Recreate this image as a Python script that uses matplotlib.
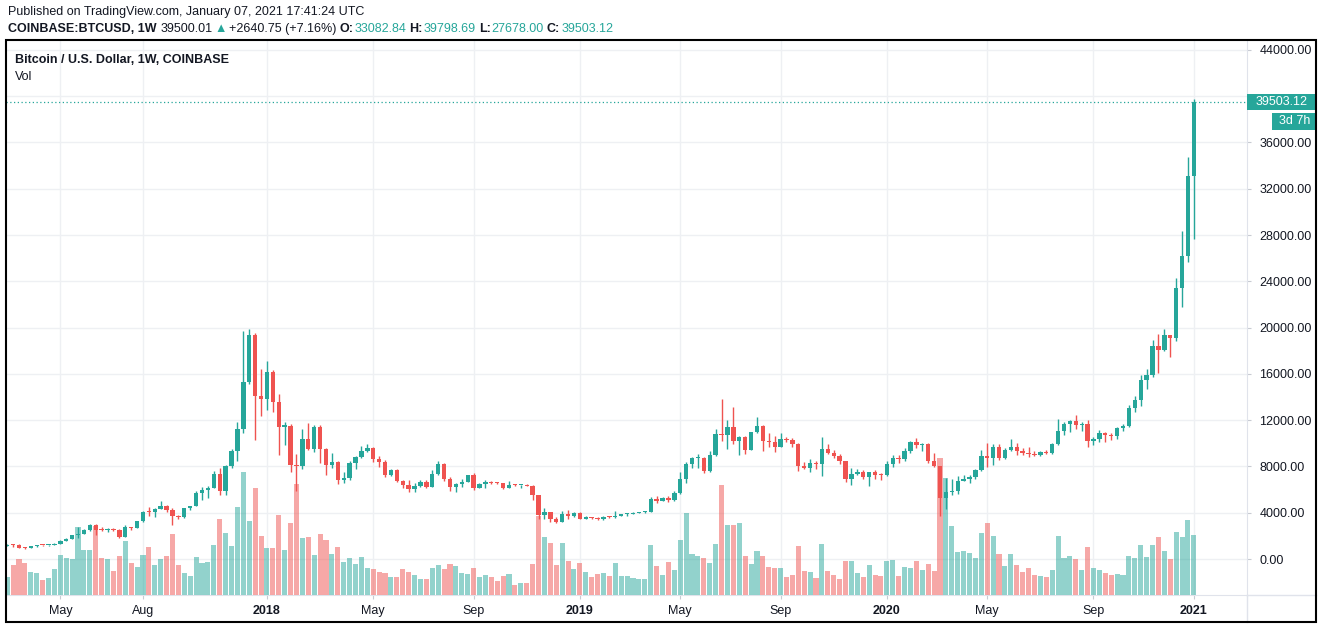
import numpy as np
import pandas as pd
import matplotlib
matplotlib.use('Agg')
import matplotlib.pyplot as plt
from matplotlib.patches import Rectangle
from matplotlib.lines import Line2D

# Weekly candles COINBASE:BTCUSD, 1W
dates = pd.date_range('2017-02-27', periods=202, freq='W-MON')

opens = [1150, 1200, 1180, 965, 950, 1090, 1180, 1170, 1240, 1340,
         1550, 1760, 2050, 2200, 2510, 2950, 2520, 2480, 2510, 2500,
         1920, 2750, 2700, 3250, 4100, 4060, 4350, 4580, 4250, 3680,
         3600, 4390, 4600, 5700, 5980, 6150, 7360, 5850, 8050, 9330,
         11250, 15300, 19400, 14100, 13800, 16160, 13600, 11450, 11500, 8100,
         8000, 10370, 9550, 11410, 9500, 8100, 8380, 6800, 7000, 8300,
         8780, 9360, 9600, 8640, 8400, 7300, 7700, 6700, 6380, 6080,
         6320, 6640, 6260, 7350, 8210, 6950, 6260, 6480, 6650, 7260,
         6160, 6480, 6650, 6570, 6560, 6180, 6400, 6380, 6400, 6340,
         5500, 3800, 4060, 3500, 3180, 3890, 3750, 3990, 3500, 3560,
         3540, 3420, 3650, 3610, 3760, 3860, 3920, 4000, 4020, 4100,
         5190, 5050, 5280, 5060, 5700, 6910, 8210, 8730, 8740, 7600,
         8990, 10800, 10750, 11400, 10200, 10540, 9420, 10980, 11500, 10200,
         10100, 9700, 10370, 10300, 9980, 8000, 7870, 8300, 8220, 9510,
         9200, 8900, 8450, 6900, 7350, 7520, 7080, 7500, 7300, 7220,
         8180, 8700, 8620, 9330, 10110, 9880, 9950, 8450, 8000, 5300,
         5800, 5880, 6740, 6900, 7090, 7690, 8900, 8700, 9680, 8720,
         9450, 9680, 9330, 9180, 9080, 9020, 9250, 9160, 9940, 11060,
         11670, 11900, 11550, 11680, 10200, 10330, 10890, 10700, 10600, 11320,
         11500, 13050, 13740, 15470, 15900, 18410, 18100, 19360, 19100, 23420,
         26190, 33082.84]

highs = [1280, 1330, 1260, 1080, 1130, 1200, 1220, 1250, 1360, 1600,
         1800, 2080, 2760, 2600, 3000, 2990, 2780, 2650, 2650, 2560,
         2940, 2800, 3300, 4180, 4480, 4380, 4980, 4700, 4400, 3800,
         4400, 4600, 5860, 6200, 6300, 7600, 7880, 8100, 9500, 11850,
         19700, 19890, 19500, 16400, 17100, 16300, 14260, 11850, 11700, 9080,
         11200, 11750, 11550, 11600, 9600, 9170, 8500, 7500, 8430, 8900,
         9770, 9940, 9700, 8880, 8550, 7780, 7810, 6830, 6800, 6540,
         6830, 6800, 7690, 8470, 8270, 7060, 6590, 6880, 7300, 7400,
         6550, 6830, 6750, 6650, 6600, 6740, 6480, 6420, 6450, 6400,
         5550, 4410, 4100, 3600, 4150, 4240, 4100, 4100, 3720, 3660,
         3600, 3700, 3700, 4150, 3900, 3960, 4060, 4080, 4130, 5360,
         5420, 5400, 5420, 5850, 7520, 8380, 8830, 9080, 8800, 9330,
         11200, 13830, 12010, 13140, 10650, 10650, 11000, 12270, 11550, 10890,
         10630, 10890, 10550, 10460, 10030, 8400, 8650, 8470, 10540, 9940,
         9400, 9080, 8470, 7870, 7750, 7650, 7500, 7690, 7430, 8450,
         9000, 8980, 9590, 10200, 10460, 10030, 9990, 9160, 8050, 7000,
         6910, 7180, 7300, 7250, 7780, 9420, 10030, 9940, 9940, 9600,
         10370, 9990, 9590, 9650, 9300, 9350, 9400, 10000, 12100, 11800,
         12020, 12450, 11810, 12020, 10520, 11150, 10980, 10890, 11450, 11680,
         13310, 14090, 15900, 16420, 18930, 19450, 19880, 19400, 24290, 28380,
         34720, 39798.69]

lows = [1120, 1000, 930, 900, 930, 1080, 1100, 1150, 1200, 1330,
        1550, 1720, 1850, 2150, 2450, 2050, 2430, 2300, 2450, 1830,
        1900, 2550, 2650, 3200, 3750, 3600, 4330, 4100, 2970, 3500,
        3580, 4200, 4560, 5100, 5300, 6100, 5500, 5500, 7900, 8500,
        10890, 15100, 10300, 12400, 12900, 12700, 9000, 9850, 7500, 5880,
        7800, 9450, 9280, 8320, 7250, 7900, 6450, 6550, 6800, 7800,
        8700, 9250, 8350, 7950, 7100, 7200, 6650, 6100, 5750, 5800,
        6200, 6100, 6250, 7300, 6770, 5880, 5790, 6200, 6650, 5960,
        6100, 6100, 6450, 6450, 6050, 6100, 6300, 6150, 6280, 5130,
        3450, 3450, 3200, 3130, 3180, 3460, 3620, 3450, 3480, 3450,
        3380, 3380, 3580, 3580, 3700, 3720, 3880, 3950, 3950, 4080,
        4850, 5000, 4900, 5030, 5620, 6540, 7900, 7870, 7450, 7500,
        8900, 10200, 9510, 9970, 8990, 9100, 9400, 10890, 9330, 9680,
        9250, 9680, 10070, 9680, 7630, 7750, 7500, 7750, 7200, 9100,
        8700, 8210, 6650, 6400, 7250, 6950, 6310, 6910, 6860, 7200,
        7950, 8300, 8470, 9150, 9590, 9300, 8300, 7950, 3720, 4320,
        5530, 5620, 6740, 6560, 6910, 7600, 7950, 8100, 8560, 8650,
        9300, 8950, 8950, 8800, 8900, 8900, 9050, 9100, 9850, 10700,
        11020, 11260, 11050, 9720, 9850, 10110, 10110, 10290, 10400, 11060,
        11410, 12700, 13230, 14690, 15730, 16080, 17970, 17460, 18870, 21780,
        25700, 27678.00]

closes = [1200, 1180, 965, 950, 1090, 1180, 1170, 1240, 1340, 1550,
          1760, 2050, 2200, 2510, 2950, 2520, 2480, 2510, 2500, 1920,
          2750, 2700, 3250, 4100, 4060, 4350, 4580, 4250, 3680, 3600,
          4390, 4600, 5700, 5980, 6150, 7360, 5850, 8050, 9330, 11250,
          15300, 19400, 14100, 13800, 16160, 13600, 11450, 11500, 8100, 8000,
          10370, 9550, 11410, 9500, 8100, 8380, 6800, 7000, 8300, 8780,
          9360, 9600, 8640, 8400, 7300, 7700, 6700, 6380, 6080, 6320,
          6640, 6260, 7350, 8210, 6950, 6260, 6480, 6650, 7260, 6160,
          6480, 6650, 6570, 6560, 6180, 6400, 6380, 6400, 6340, 5500,
          3800, 4060, 3500, 3180, 3890, 3750, 3990, 3500, 3560, 3540,
          3420, 3650, 3610, 3760, 3860, 3920, 4000, 4020, 4100, 5190,
          5050, 5280, 5060, 5700, 6910, 8210, 8730, 8740, 7600, 8990,
          10800, 10750, 11400, 10200, 10540, 9420, 10980, 11500, 10200, 10100,
          9700, 10370, 10300, 9980, 8000, 7870, 8300, 8220, 9510, 9200,
          8900, 8450, 6900, 7350, 7520, 7080, 7500, 7300, 7220, 8180,
          8700, 8620, 9330, 10110, 9880, 9950, 8450, 8000, 5300, 5800,
          5880, 6740, 6900, 7090, 7690, 8900, 8700, 9680, 8720, 9450,
          9680, 9330, 9180, 9080, 9020, 9250, 9160, 9940, 11060, 11670,
          11900, 11550, 11680, 10200, 10330, 10890, 10700, 10600, 11320, 11500,
          13050, 13740, 15470, 15900, 18410, 18100, 19360, 19100, 23420, 26190,
          33082.84, 39503.12]

# volume, thousands of BTC
volumes = [24, 41, 49, 43, 31, 30, 20, 23, 35, 54,
           50, 49, 92, 61, 61, 93, 50, 49, 32, 53,
           73, 43, 38, 54, 65, 41, 49, 53, 82, 41,
           30, 26, 51, 43, 45, 68, 103, 84, 66, 119,
           166, 100, 144, 80, 63, 63, 108, 61, 97, 150,
           77, 78, 54, 82, 74, 55, 65, 45, 50, 42,
           51, 36, 35, 31, 30, 24, 24, 35, 31, 27,
           22, 22, 36, 41, 35, 42, 39, 30, 28, 36,
           24, 27, 24, 19, 26, 28, 14, 16, 16, 42,
           107, 78, 70, 41, 70, 46, 35, 43, 31, 24,
           28, 30, 26, 43, 26, 26, 23, 22, 22, 68,
           39, 27, 45, 34, 74, 111, 55, 53, 50, 43,
           69, 149, 95, 95, 97, 53, 42, 59, 53, 38,
           36, 36, 24, 27, 66, 32, 31, 23, 69, 32,
           27, 22, 46, 46, 30, 24, 41, 27, 26, 46,
           47, 26, 38, 36, 46, 34, 42, 32, 185, 158,
           93, 58, 59, 57, 50, 84, 97, 80, 55, 39,
           55, 41, 31, 36, 27, 26, 24, 34, 80, 50,
           53, 49, 34, 65, 36, 34, 30, 27, 28, 27,
           53, 50, 68, 51, 68, 78, 59, 49, 85, 78,
           101, 81]

tick_months = ['2017-05', '2017-08', '2018-01', '2018-05', '2018-09', '2019-01',
               '2019-05', '2019-09', '2020-01', '2020-05', '2020-09', '2021-01']
tick_names = ['May', 'Aug', '2018', 'May', 'Sep', '2019',
              'May', 'Sep', '2020', 'May', 'Sep', '2021']
price_ticks = list(range(0, 44001, 4000))

UP = '#26a69a'
DOWN = '#ef5350'
TXT = '#131722'
LINE = '#e0e3eb'
FS = 9

plt.rcParams['font.family'] = ['Liberation Sans', 'DejaVu Sans']

W, H = 1322, 630
fig = plt.figure(figsize=(W / 100, H / 100), dpi=100)


def fx(x):
    return x / W


def fy(y):
    return 1 - y / H


rect = [fx(6), fy(595), fx(1247) - fx(6), fy(40) - fy(595)]
ax = fig.add_axes(rect)
ax_vol = fig.add_axes(rect, sharex=ax)
ax_k = fig.add_axes(rect, sharex=ax, sharey=ax)
for a in (ax_vol, ax_k):
    a.patch.set_alpha(0)
    a.axis('off')

idx = np.arange(len(dates))
o = np.array(opens)
h = np.array(highs)
l = np.array(lows)
c = np.array(closes)
colors = np.where(c >= o, UP, DOWN)

# volume overlay
ax_vol.bar(idx, volumes, width=0.86, color=colors, alpha=0.5, linewidth=0)
ax_vol.set_ylim(0, max(volumes) * 4.05)

# candles
ax_k.vlines(idx, l, h, colors=colors, linewidth=1.0)
ax_k.bar(idx, np.maximum(np.abs(c - o), 90), bottom=np.minimum(o, c),
         width=0.74, color=colors, linewidth=0)

ax.set_xlim(-0.2, 210.0)
ax.set_ylim(-3111, 44857)

# grid + axes
months = dates.to_period('M').astype(str)
tick_pos = [int(np.argmax(months == m)) for m in tick_months]
ax.set_xticks(tick_pos)
ax.set_xticklabels(tick_names)
for lab, name in zip(ax.get_xticklabels(), tick_names):
    if name.isdigit():
        lab.set_fontweight('bold')
ax.set_yticks(price_ticks)
# the 40000 label sits under the last-price tag, so it is not shown
ax.set_yticklabels(['' if abs(v - c[-1]) < 1500 else f'{v:.2f}' for v in price_ticks])
ax.yaxis.tick_right()
ax.grid(True, color='#eef0f3', linewidth=1)
ax.tick_params(axis='both', colors='#c8cbd2', labelcolor=TXT, labelsize=FS, length=3)
ax.tick_params(axis='y', pad=6)
ax.tick_params(axis='x', pad=4)
for side in ('top', 'left'):
    ax.spines[side].set_visible(False)
ax.spines['bottom'].set_color(LINE)
ax.spines['right'].set_color(LINE)

# separators continue into the axis strips
fig.add_artist(Line2D([fx(1247), fx(1316)], [fy(595), fy(595)], color=LINE, lw=1,
                      transform=fig.transFigure))
fig.add_artist(Line2D([fx(1247), fx(1247)], [fy(595), fy(622)], color=LINE, lw=1,
                      transform=fig.transFigure))

# last price line
ax_k.axhline(c[-1], color=UP, linewidth=0.9, linestyle=(0, (1, 2)))

fig.canvas.draw()
ypx = ax.transData.transform((0, c[-1]))[1]
fig.add_artist(Rectangle((fx(1247), (ypx - 8) / H), fx(1317) - fx(1247), 16 / H,
                         transform=fig.transFigure, facecolor=UP, edgecolor='none', zorder=10))
fig.text(fx(1256), ypx / H, f'{c[-1]:.2f}', color='white', fontsize=FS,
         va='center', ha='left', zorder=11)
fig.add_artist(Rectangle((fx(1272), (ypx - 28) / H), fx(1317) - fx(1272), 17 / H,
                         transform=fig.transFigure, facecolor=UP, edgecolor='none', zorder=10))
fig.text(fx(1295), (ypx - 19.5) / H, '3d 7h', color='white', fontsize=FS,
         va='center', ha='center', zorder=11)

# outer frame
fig.add_artist(Rectangle((fx(6), fy(622)), fx(1316) - fx(6), fy(40) - fy(622),
                         transform=fig.transFigure, fill=False, edgecolor='black',
                         linewidth=1.5, zorder=12))

# header texts
renderer = fig.canvas.get_renderer()


def put_row(x, y, pieces, size=FS):
    for text, color, weight, gap in pieces:
        t = fig.text(fx(x), fy(y), text, color=color, fontsize=size,
                     fontweight=weight, va='center', ha='left')
        x += t.get_window_extent(renderer=renderer).width + gap


fig.text(fx(8), fy(12), 'Published on TradingView.com, January 07, 2021 17:41:24 UTC',
         color=TXT, fontsize=FS, va='center', ha='left')
put_row(8, 29, [
    ('COINBASE:BTCUSD, 1W', TXT, 'bold', 4),
    ('39500.01', TXT, 'normal', 2),
    ('\u25b2', UP, 'normal', 2),
    ('+2640.75 (+7.16%)', TXT, 'normal', 3),
    ('O:', TXT, 'bold', 1),
    (f'{o[-1]:.2f}', UP, 'normal', 3),
    ('H:', TXT, 'bold', 1),
    (f'{h[-1]:.2f}', UP, 'normal', 3),
    ('L:', TXT, 'bold', 1),
    (f'{l[-1]:.2f}', UP, 'normal', 3),
    ('C:', TXT, 'bold', 1),
    (f'{c[-1]:.2f}', UP, 'normal', 0),
])
fig.text(fx(15), fy(60), 'Bitcoin / U.S. Dollar, 1W, COINBASE', color=TXT,
         fontsize=FS, fontweight='bold', va='center', ha='left')
fig.text(fx(15), fy(77), 'Vol', color=TXT, fontsize=FS, va='center', ha='left')

fig.savefig('out.png', dpi=100)
